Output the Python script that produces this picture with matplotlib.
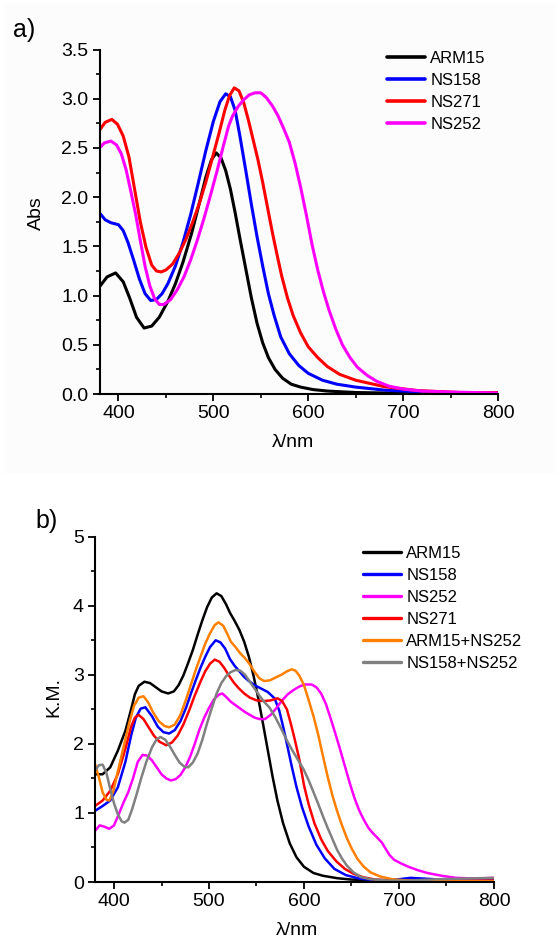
import matplotlib
matplotlib.use("Agg")
import matplotlib.pyplot as plt
from matplotlib.ticker import MultipleLocator, FormatStrFormatter
from matplotlib.patches import Rectangle

plt.rcParams['font.family'] = ['Liberation Sans', 'DejaVu Sans']

# ---------------- Panel a data (Abs) ----------------
arm15_a_x = [380, 388, 397, 405, 412, 419, 427, 435, 443, 452, 460, 468, 477, 485, 492, 498, 503, 508, 513, 518, 523, 528, 534, 540, 546, 552, 558, 565, 573, 582, 592, 605, 620, 650, 700, 750, 800]
arm15_a_y = [1.09, 1.19, 1.23, 1.14, 0.97, 0.78, 0.67, 0.69, 0.78, 0.94, 1.12, 1.34, 1.63, 1.93, 2.20, 2.38, 2.45, 2.40, 2.27, 2.08, 1.84, 1.58, 1.28, 0.98, 0.72, 0.52, 0.37, 0.25, 0.16, 0.10, 0.07, 0.045, 0.03, 0.015, 0.008, 0.005, 0.005]

ns158_a_x = [380, 386, 392, 400, 405, 410, 416, 422, 428, 434, 440, 446, 452, 460, 468, 476, 484, 492, 500, 507, 513, 518, 523, 528, 534, 540, 546, 552, 558, 564, 571, 580, 590, 600, 615, 630, 650, 680, 710, 750, 800]
ns158_a_y = [1.84, 1.77, 1.74, 1.72, 1.66, 1.54, 1.36, 1.17, 1.02, 0.95, 0.96, 1.02, 1.12, 1.30, 1.54, 1.82, 2.14, 2.47, 2.77, 2.97, 3.05, 3.02, 2.88, 2.62, 2.28, 1.93, 1.60, 1.30, 1.02, 0.80, 0.58, 0.41, 0.29, 0.21, 0.14, 0.10, 0.07, 0.04, 0.025, 0.015, 0.01]

ns271_a_x = [380, 386, 393, 399, 405, 411, 417, 423, 429, 435, 440, 445, 450, 457, 464, 471, 478, 485, 492, 499, 506, 512, 517, 522, 527, 532, 537, 542, 547, 552, 557, 562, 567, 572, 578, 584, 592, 600, 610, 620, 633, 650, 680, 715, 760, 800]
ns271_a_y = [2.68, 2.76, 2.79, 2.74, 2.62, 2.41, 2.08, 1.75, 1.49, 1.31, 1.25, 1.24, 1.26, 1.32, 1.43, 1.57, 1.74, 1.93, 2.15, 2.40, 2.65, 2.88, 3.03, 3.11, 3.08, 2.96, 2.78, 2.58, 2.38, 2.15, 1.90, 1.65, 1.42, 1.20, 0.98, 0.80, 0.62, 0.48, 0.37, 0.28, 0.20, 0.14, 0.075, 0.035, 0.015, 0.015]

ns252_a_x = [380, 385, 392, 398, 403, 408, 413, 418, 423, 428, 433, 438, 443, 448, 455, 462, 469, 476, 483, 490, 497, 504, 510, 516, 520, 526, 532, 538, 544, 550, 556, 562, 568, 574, 580, 586, 592, 598, 604, 610, 616, 622, 629, 636, 644, 652, 662, 672, 685, 700, 720, 750, 800]
ns252_a_y = [2.50, 2.55, 2.57, 2.53, 2.44, 2.28, 2.06, 1.83, 1.56, 1.30, 1.10, 0.97, 0.91, 0.91, 0.96, 1.06, 1.19, 1.36, 1.56, 1.78, 2.02, 2.27, 2.50, 2.72, 2.82, 2.92, 2.99, 3.04, 3.06, 3.06, 3.01, 2.93, 2.83, 2.70, 2.56, 2.35, 2.10, 1.82, 1.52, 1.26, 1.04, 0.85, 0.66, 0.50, 0.37, 0.27, 0.19, 0.13, 0.08, 0.05, 0.03, 0.02, 0.01]

labels_a = ['ARM15', 'NS158', 'NS271', 'NS252']
colors_a = ['#000000', '#0000ff', '#ff0000', '#ff00ff']

# ---------------- Panel b data (K.M.) ----------------
arm15_b_x = [380, 388, 396, 404, 412, 418, 422, 426, 432, 438, 444, 450, 457, 463, 468, 473, 478, 483, 488, 493, 498, 503, 508, 513, 518, 522, 527, 532, 537, 542, 547, 552, 557, 562, 567, 572, 578, 585, 592, 600, 610, 620, 635, 650, 680, 720, 800]
arm15_b_y = [1.56, 1.56, 1.66, 1.90, 2.19, 2.50, 2.72, 2.84, 2.90, 2.88, 2.82, 2.76, 2.73, 2.76, 2.85, 2.99, 3.17, 3.36, 3.58, 3.79, 3.98, 4.12, 4.18, 4.14, 4.02, 3.90, 3.78, 3.65, 3.48, 3.26, 2.98, 2.65, 2.28, 1.90, 1.52, 1.18, 0.85, 0.56, 0.36, 0.22, 0.13, 0.09, 0.055, 0.035, 0.02, 0.015, 0.02]

ns158_b_x = [380, 388, 396, 404, 412, 418, 423, 428, 433, 440, 446, 452, 458, 464, 470, 476, 481, 486, 491, 496, 501, 507, 512, 517, 522, 527, 532, 537, 542, 548, 555, 562, 569, 574, 578, 582, 587, 592, 598, 605, 613, 622, 632, 644, 658, 672, 688, 700, 712, 725, 750, 800]
ns158_b_y = [1.03, 1.10, 1.18, 1.37, 1.74, 2.12, 2.38, 2.51, 2.53, 2.40, 2.25, 2.17, 2.15, 2.20, 2.33, 2.53, 2.73, 2.92, 3.10, 3.26, 3.40, 3.50, 3.47, 3.38, 3.23, 3.13, 3.05, 2.97, 2.91, 2.85, 2.80, 2.75, 2.66, 2.48, 2.25, 2.00, 1.68, 1.38, 1.08, 0.80, 0.54, 0.34, 0.19, 0.10, 0.05, 0.03, 0.025, 0.04, 0.06, 0.05, 0.03, 0.02]

ns252_b_x = [380, 385, 390, 395, 400, 405, 410, 415, 420, 425, 430, 435, 440, 445, 450, 455, 460, 465, 470, 475, 480, 485, 490, 495, 500, 505, 510, 514, 518, 523, 528, 533, 538, 543, 548, 553, 559, 565, 571, 577, 583, 589, 595, 601, 608, 613, 618, 623, 628, 633, 638, 643, 648, 653, 658, 663, 668, 673, 678, 682, 686, 690, 695, 702, 710, 720, 730, 745, 760, 780, 800]
ns252_b_y = [0.74, 0.82, 0.80, 0.77, 0.82, 0.98, 1.15, 1.30, 1.50, 1.74, 1.84, 1.83, 1.76, 1.66, 1.56, 1.50, 1.47, 1.49, 1.55, 1.66, 1.81, 2.00, 2.21, 2.38, 2.52, 2.64, 2.71, 2.73, 2.68, 2.61, 2.56, 2.51, 2.46, 2.42, 2.38, 2.36, 2.36, 2.42, 2.52, 2.63, 2.72, 2.78, 2.83, 2.86, 2.86, 2.82, 2.73, 2.58, 2.37, 2.15, 1.92, 1.68, 1.44, 1.22, 1.04, 0.90, 0.78, 0.70, 0.63, 0.57, 0.48, 0.39, 0.32, 0.27, 0.22, 0.17, 0.13, 0.09, 0.06, 0.05, 0.06]

ns271_b_x = [380, 388, 396, 404, 412, 418, 422, 426, 431, 436, 442, 448, 455, 461, 467, 473, 479, 485, 491, 496, 501, 506, 511, 516, 521, 526, 531, 537, 543, 550, 558, 565, 572, 577, 582, 586, 590, 595, 600, 605, 611, 618, 625, 634, 643, 652, 662, 675, 695, 750, 800]
ns271_b_y = [1.10, 1.18, 1.32, 1.56, 1.93, 2.25, 2.38, 2.42, 2.36, 2.25, 2.12, 2.03, 1.98, 2.02, 2.12, 2.28, 2.48, 2.70, 2.90, 3.05, 3.16, 3.22, 3.19, 3.10, 2.99, 2.89, 2.81, 2.73, 2.67, 2.63, 2.62, 2.63, 2.66, 2.62, 2.50, 2.30, 2.08, 1.78, 1.40, 1.12, 0.85, 0.62, 0.45, 0.30, 0.19, 0.12, 0.07, 0.035, 0.02, 0.02, 0.02]

mix1_b_x = [380, 384, 388, 392, 395, 399, 404, 410, 416, 421, 426, 431, 436, 441, 447, 453, 458, 464, 470, 476, 481, 486, 491, 496, 501, 506, 510, 515, 519, 523, 528, 533, 538, 543, 548, 553, 558, 564, 570, 576, 582, 587, 591, 595, 600, 605, 610, 615, 620, 625, 630, 635, 640, 645, 650, 656, 663, 670, 680, 693, 710, 750, 800]
mix1_b_y = [1.71, 1.52, 1.30, 1.19, 1.18, 1.30, 1.60, 1.95, 2.30, 2.55, 2.67, 2.69, 2.60, 2.46, 2.33, 2.26, 2.24, 2.28, 2.42, 2.65, 2.86, 3.07, 3.26, 3.45, 3.60, 3.72, 3.76, 3.71, 3.60, 3.48, 3.40, 3.31, 3.24, 3.15, 3.04, 2.95, 2.91, 2.92, 2.96, 3.00, 3.05, 3.08, 3.06, 2.99, 2.85, 2.63, 2.40, 2.13, 1.82, 1.52, 1.25, 1.02, 0.82, 0.64, 0.49, 0.34, 0.22, 0.14, 0.08, 0.04, 0.02, 0.01, 0.01]

mix2_b_x = [380, 384, 388, 392, 396, 400, 404, 408, 411, 415, 419, 424, 429, 434, 440, 445, 449, 454, 459, 464, 469, 474, 478, 483, 488, 493, 498, 503, 508, 513, 518, 523, 528, 533, 538, 543, 548, 553, 558, 564, 570, 576, 582, 588, 594, 600, 605, 610, 615, 620, 625, 630, 635, 640, 645, 652, 660, 670, 690, 710, 740, 770, 800]
mix2_b_y = [1.61, 1.69, 1.70, 1.58, 1.35, 1.14, 0.98, 0.88, 0.86, 0.90, 1.05, 1.28, 1.52, 1.74, 1.95, 2.07, 2.10, 2.06, 1.96, 1.84, 1.73, 1.67, 1.66, 1.73, 1.86, 2.06, 2.30, 2.52, 2.73, 2.88, 2.98, 3.04, 3.07, 3.06, 3.00, 2.90, 2.80, 2.70, 2.61, 2.52, 2.38, 2.22, 2.05, 1.90, 1.76, 1.62, 1.47, 1.30, 1.13, 0.95, 0.78, 0.62, 0.46, 0.34, 0.24, 0.14, 0.07, 0.04, 0.02, 0.02, 0.04, 0.05, 0.06]

labels_b = ['ARM15', 'NS158', 'NS252', 'NS271', 'ARM15+NS252', 'NS158+NS252']
colors_b = ['#000000', '#0000ff', '#ff00ff', '#ff0000', '#ff8000', '#808080']

W, H = 560, 938
fig = plt.figure(figsize=(W / 100, H / 100), dpi=100)
fig.patch.set_facecolor('white')
# very faint off-white backdrop of the upper panel image (drawn behind everything)
fig.patches.append(Rectangle((4 / W, 1 - 473 / H), 552 / W, 469 / H, transform=fig.transFigure,
                             facecolor='#fcfcfc', edgecolor='none', zorder=-10))

def ax_at(l, t, r, b):
    ax = fig.add_axes([l / W, 1 - b / H, (r - l) / W, (b - t) / H])
    ax.patch.set_alpha(0)
    ax.set_zorder(1)
    return ax

TFS = 14   # tick labels and axis titles
LFS = 12   # legend

def style(ax, ymax, ymajor, yminor):
    ax.set_xlim(380, 800)
    ax.set_ylim(0, ymax)
    for s in ['top', 'right']:
        ax.spines[s].set_visible(False)
    for s in ['left', 'bottom']:
        ax.spines[s].set_linewidth(1.5)
    ax.xaxis.set_major_locator(MultipleLocator(100))
    ax.xaxis.set_minor_locator(MultipleLocator(50))
    ax.yaxis.set_major_locator(MultipleLocator(ymajor))
    ax.yaxis.set_minor_locator(MultipleLocator(yminor))
    ax.tick_params(which='major', direction='out', length=5, width=1.3, labelsize=TFS, pad=3)
    ax.tick_params(which='minor', direction='out', length=3, width=1.2)

# ---------- Panel a ----------
axa = ax_at(99.5, 49.5, 498, 394)
series_a = [(arm15_a_x, arm15_a_y), (ns158_a_x, ns158_a_y), (ns271_a_x, ns271_a_y), (ns252_a_x, ns252_a_y)]
for (x, y), lab, c in zip(series_a, labels_a, colors_a):
    axa.plot(x, y, color=c, lw=2.2, label=lab, solid_capstyle='round', solid_joinstyle='round')
style(axa, 3.5, 0.5, 0.25)
axa.yaxis.set_major_formatter(FormatStrFormatter('%.1f'))
axa.set_xlabel('λ/nm', fontsize=TFS)
axa.set_ylabel('Abs', fontsize=TFS)
axa.xaxis.set_label_coords((293 - 99.5) / (498 - 99.5), -(442 - 394) / (394 - 49.5), transform=axa.transAxes)
axa.yaxis.set_label_coords(-(99.5 - 36) / (498 - 99.5), (394 - 213) / (394 - 49.5), transform=axa.transAxes)
axa.xaxis.label.set_va('center')
axa.yaxis.label.set_va('center')
leg = axa.legend(loc='upper left', bbox_to_anchor=(387 / W, 1 - 51 / H), bbox_transform=fig.transFigure,
                 frameon=False, fontsize=LFS, borderpad=0, borderaxespad=0, handlelength=2.3,
                 handletextpad=0.3, labelspacing=0.42)
for l in leg.get_lines():
    l.set_linewidth(2.6)
fig.text(24 / W, 1 - 30 / H, 'a)', fontsize=18, ha='center', va='center')

# ---------- Panel b ----------
axb = ax_at(95, 536.7, 494, 882)
series_b = [(arm15_b_x, arm15_b_y), (ns158_b_x, ns158_b_y), (ns252_b_x, ns252_b_y),
            (ns271_b_x, ns271_b_y), (mix1_b_x, mix1_b_y), (mix2_b_x, mix2_b_y)]
for (x, y), lab, c in zip(series_b, labels_b, colors_b):
    axb.plot(x, y, color=c, lw=1.8, label=lab, solid_capstyle='round', solid_joinstyle='round')
style(axb, 5, 1, 0.5)
axb.set_xlabel('λ/nm', fontsize=TFS)
axb.set_ylabel('K.M.', fontsize=TFS)
axb.xaxis.set_label_coords((297 - 95) / (494 - 95), -(930 - 882) / (882 - 536.7), transform=axb.transAxes)
axb.yaxis.set_label_coords(-(95 - 54) / (494 - 95), (882 - 697) / (882 - 536.7), transform=axb.transAxes)
axb.xaxis.label.set_va('center')
axb.yaxis.label.set_va('center')
legb = axb.legend(loc='upper left', bbox_to_anchor=(363 / W, 1 - 546 / H), bbox_transform=fig.transFigure,
                  frameon=False, fontsize=LFS, borderpad=0, borderaxespad=0, handlelength=2.3,
                  handletextpad=0.3, labelspacing=0.42)
for l in legb.get_lines():
    l.set_linewidth(2.4)
fig.text(47 / W, 1 - 521 / H, 'b)', fontsize=18, ha='center', va='center')

fig.savefig('out.png', dpi=100, facecolor='white')
